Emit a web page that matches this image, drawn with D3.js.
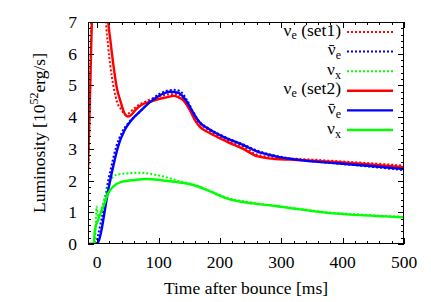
<!DOCTYPE html>
<html><head><meta charset="utf-8">
<script src="https://cdn.jsdelivr.net/npm/d3@7"></script>
<style>
body{margin:0;background:#fff;}
</style></head>
<body>
<svg id="chart" width="431" height="302" font-family="'Liberation Serif', 'DejaVu Serif', serif"></svg>
<script>
// ---- data ----
const xTicks = [0,100,200,300,400,500];
const yTicks = [0,1,2,3,4,5,6,7];

const tNueSet1 = [-15,-13,-11,-9,-6,0,8,12,14,18,24,30,32,40,45,50,56,65,80,100,120,130,140,150,160,170,185,210,240,260,300,350,400,450,500];
const vNueSet1 = [2.0,3.5,5.5,7.8,10,12,11,8,7.1,6.2,5.25,4.65,4.5,4.22,4.08,4.1,4.2,4.35,4.5,4.65,4.72,4.72,4.6,4.3,3.95,3.75,3.55,3.28,3.05,2.82,2.72,2.66,2.6,2.54,2.47];

const tNuebSet1 = [-15,-2,1.6,5,10,15,23,31,39.5,50,67,80,100,115,125,135,146,157,165,184,211,238,260,287,341,395,450,500];
const vNuebSet1 = [0,0,0.3,0.6,1.07,1.7,2.44,3.07,3.49,3.8,4.12,4.38,4.72,4.84,4.86,4.82,4.55,4.15,3.9,3.62,3.35,3.14,2.95,2.8,2.63,2.53,2.43,2.33];

const tNuxSet1 = [-15,-4,-1,1.5,4.6,12.5,20.6,31,50,67,90,110,130,157,185,211,254,290,319,373,428,470,500];
const vNuxSet1 = [0,0,1.18,0.85,0.97,1.49,1.96,2.18,2.23,2.25,2.2,2.12,2.0,1.88,1.66,1.46,1.3,1.2,1.14,1.0,0.93,0.88,0.86];

const tNueSet2 = [-15,-12,-9,-6,0,10,12,16,18,21,26,32,38,45,50,56,62,72,89,102,115,124,132,140,151,159,167,184,211,238,260,290,314,350,395,450,500];
const vNueSet2 = [2.4,4.5,6.8,9,12,12,9.5,7.6,7.0,6.5,5.7,4.92,4.5,4.1,4.02,4.08,4.22,4.38,4.5,4.58,4.63,4.67,4.63,4.54,4.22,3.91,3.7,3.49,3.23,3.0,2.77,2.68,2.66,2.63,2.58,2.5,2.42];

const tNuebSet2 = [-15,-1,3,7,12.5,18,26,34,45,56,72,89,110,119,132,146,157,165,184,211,238,260,287,341,395,450,500];
const vNuebSet2 = [0,0,0.12,0.44,1.07,1.7,2.44,3.07,3.6,3.91,4.22,4.52,4.76,4.8,4.77,4.49,4.12,3.88,3.6,3.33,3.12,2.92,2.78,2.62,2.54,2.45,2.36];

const tNuxSet2 = [-15,-6,-3.7,1.6,10,18,26,39.5,61,80,102,130,157,185,211,254,290,319,373,428,470,500];
const vNuxSet2 = [0,0,0.44,0.76,1.18,1.6,1.81,1.96,2.02,2.05,2.02,1.95,1.86,1.65,1.44,1.28,1.2,1.12,0.99,0.91,0.87,0.84];

const legendLabels = [
  {nu:"ν", bar:false, sub:"e", extra:" (set1)"},
  {nu:"ν", bar:true, sub:"e", extra:""},
  {nu:"ν", bar:false, sub:"x", extra:""},
  {nu:"ν", bar:false, sub:"e", extra:" (set2)"},
  {nu:"ν", bar:true, sub:"e", extra:""},
  {nu:"ν", bar:false, sub:"x", extra:""}
];
const series = [
  {t:tNueSet1, v:vNueSet1, color:"#ff0000", dotted:true},
  {t:tNuebSet1, v:vNuebSet1, color:"#0000ff", dotted:true},
  {t:tNuxSet1, v:vNuxSet1, color:"#00ff00", dotted:true},
  {t:tNueSet2, v:vNueSet2, color:"#ff0000", dotted:false},
  {t:tNuebSet2, v:vNuebSet2, color:"#0000ff", dotted:false},
  {t:tNuxSet2, v:vNuxSet2, color:"#00ff00", dotted:false}
];

// ---- layout ----
const FF = "'Liberation Serif', 'DejaVu Serif', serif";
const svg = d3.select("#chart");
const L = 88, R = 404, T = 22, B = 244;
const x = d3.scaleLinear().domain([-15,500]).range([L,R]);
const y = d3.scaleLinear().domain([0,7]).range([B,T]);
const fs = 17.5;

svg.append("clipPath").attr("id","clip").append("rect")
  .attr("x",L).attr("y",T).attr("width",R-L).attr("height",B-T);

const line = d3.line().x((d)=>x(d[0])).y((d)=>y(d[1])).curve(d3.curveMonotoneX);
const g = svg.append("g").attr("clip-path","url(#clip)");
series.forEach(s=>{
  const pts = s.t.map((t,i)=>[t,s.v[i]]);
  g.append("path").datum(pts).attr("d",line)
    .attr("fill","none").attr("stroke",s.color)
    .attr("stroke-width", s.dotted?2:2.4)
    .attr("stroke-dasharray", s.dotted?"2,2":null);
});

// ticks
const tickG = svg.append("g").attr("stroke","#000").attr("stroke-width",1);
const xMinor = d3.range(0,501,20);
xMinor.forEach(v=>{
  const major = v%100===0; const len = major?6:3;
  const px = Math.round(x(v))+0.5;
  tickG.append("line").attr("x1",px).attr("x2",px).attr("y1",B).attr("y2",B-len);
  tickG.append("line").attr("x1",px).attr("x2",px).attr("y1",T).attr("y2",T+len);
});
const yMinor = d3.range(0,7.001,0.2);
yMinor.forEach(v=>{
  const major = Math.abs(v-Math.round(v))<1e-6; const len = major?6:3;
  const py = Math.round(y(v))+0.5;
  tickG.append("line").attr("x1",L).attr("x2",L+len).attr("y1",py).attr("y2",py);
  tickG.append("line").attr("x1",R).attr("x2",R-len).attr("y1",py).attr("y2",py);
});

// frame
svg.append("rect").attr("x",L+0.5).attr("y",T+0.5).attr("width",R-L-1).attr("height",B-T-1)
  .attr("fill","none").attr("stroke","#000").attr("stroke-width",1);

// tick labels
svg.selectAll(".xl").data(xTicks).enter().append("text")
  .attr("font-family",FF)
  .attr("x",d=>x(d)).attr("y",268).attr("text-anchor","middle")
  .attr("font-size",fs).text(d=>d);
svg.selectAll(".yl").data(yTicks).enter().append("text")
  .attr("font-family",FF)
  .attr("x",77).attr("y",d=>y(d)+6).attr("text-anchor","end")
  .attr("font-size",fs).text(d=>d);

// axis titles
svg.append("text").attr("font-family",FF).attr("x",(L+R)/2).attr("y",294).attr("text-anchor","middle")
  .attr("font-size",fs).text("Time after bounce [ms]");
const yl = svg.append("text").attr("font-family",FF).attr("transform","translate(45,133) rotate(-90)")
  .attr("text-anchor","middle").attr("font-size",fs);
yl.append("tspan").text("Luminosity [10");
yl.append("tspan").attr("dy",-7).attr("font-size",12).text("52");
yl.append("tspan").attr("dy",7).text("erg/s]");

// legend
const legY0 = 32, legDy = 19.6;
legendLabels.forEach((lab,i)=>{
  const yy = legY0 + i*legDy;
  const tx = svg.append("text").attr("font-family",FF).attr("x",341).attr("y",yy+3.5).attr("text-anchor","end").attr("font-size",fs);
  tx.append("tspan").text(lab.nu);
  tx.append("tspan").attr("dy",lab.extra?3:4).attr("font-size",12).text(lab.sub);
  if(lab.extra) tx.append("tspan").attr("dy",-3).text(lab.extra);
  if(lab.bar){
    const w = tx.node().getComputedTextLength();
    const nuW = tx.node().getSubStringLength(0,1);
    const x0 = 341 - w;
    svg.append("line").attr("x1",x0+1.5).attr("x2",x0+nuW-1.5)
      .attr("y1",yy-6).attr("y2",yy-6).attr("stroke","#000").attr("stroke-width",1);
  }
  const s = series[i];
  svg.append("line").attr("x1",347).attr("x2",393).attr("y1",yy).attr("y2",yy)
    .attr("stroke",s.color).attr("stroke-width",s.dotted?2:2.4)
    .attr("stroke-dasharray",s.dotted?"2,2":null);
});
</script>
</body></html>
